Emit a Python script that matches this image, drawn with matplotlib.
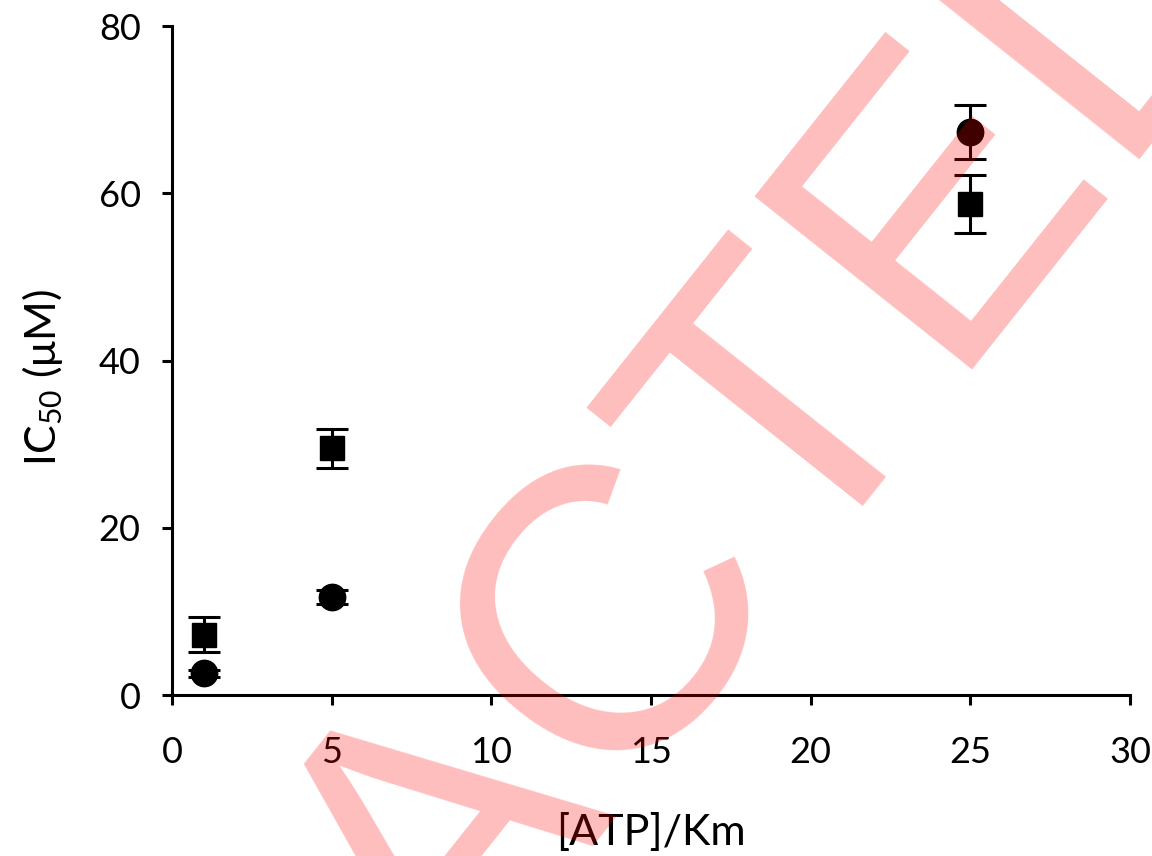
import matplotlib
matplotlib.use("Agg")
import matplotlib.pyplot as plt

# IC50 versus ATP concentration (relative to Km)
atp_km = [1, 5, 25]

square_ic50 = [7.2, 29.5, 58.7]
square_err = [2.1, 2.3, 3.45]

circle_ic50 = [2.6, 11.7, 67.3]
circle_err = [0.4, 0.85, 3.2]

x_ticks = [0, 5, 10, 15, 20, 25, 30]
y_ticks = [0, 20, 40, 60, 80]

plt.rcParams['font.family'] = ['Lato', 'DejaVu Sans']
plt.rcParams['mathtext.default'] = 'regular'

fig = plt.figure(figsize=(11.52, 8.56), dpi=100)
ax = fig.add_axes([0.1493, 0.188, 0.8316, 0.7816])

err_kw = dict(ecolor='black', elinewidth=2.2, capsize=11.5, capthick=2.2,
              linestyle='none', color='black', clip_on=False)
ax.errorbar(atp_km, square_ic50, yerr=square_err, marker='s', markersize=17.5,
            **err_kw)
ax.errorbar(atp_km, circle_ic50, yerr=circle_err, marker='o', markersize=19,
            **err_kw)

ax.set_xlim(0, 30)
ax.set_ylim(0, 80)
ax.set_xticks(x_ticks)
ax.set_yticks(y_ticks)

for side in ('top', 'right'):
    ax.spines[side].set_visible(False)
for side in ('left', 'bottom'):
    ax.spines[side].set_linewidth(2.2)

ax.tick_params(axis='both', direction='out', length=7.5, width=2.2,
               labelsize=26, colors='black')
ax.tick_params(axis='y', pad=15)
ax.tick_params(axis='x', pad=22)

ax.set_xlabel('[ATP]/Km', fontsize=31, labelpad=32)
ax.set_ylabel('IC$_{50}$ ($\\mu$M)', fontsize=31, labelpad=24)
ax.yaxis.label.set_y(0.475)

# Watermark across the figure
fig.text(0.4531, -0.0444, 'RETRACTED', fontsize=290, color='red', alpha=0.26,
         family=['Liberation Sans', 'DejaVu Sans'], rotation=51.5,
         rotation_mode='anchor', ha='center', va='baseline', zorder=10)

fig.savefig('out.png', dpi=100)
